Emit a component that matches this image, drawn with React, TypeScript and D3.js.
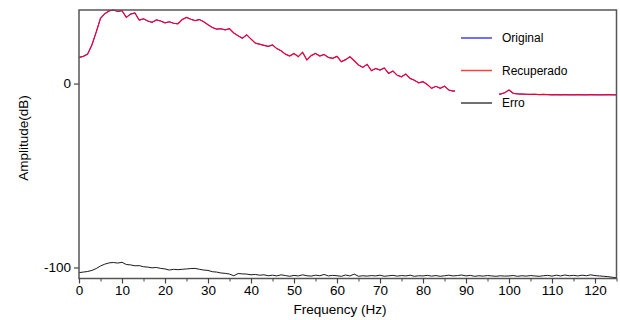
import React, { useEffect, useRef } from 'react';
import * as d3 from 'd3';

// frequency bins (Hz), one per Hz
const freqs: number[] = d3.range(0, 126);

// Recuperado / Original spectrum (dB)
const recuperado: number[] = [
  14.2, 14.8, 16.0, 21.0, 28.0, 35.5, 38.0, 39.5, 40.0, 39.2,
  39.6, 36.0, 37.8, 38.4, 34.5, 35.2, 34.0, 33.3, 34.6, 34.0,
  33.0, 33.6, 32.8, 32.5, 34.8, 36.0, 35.0, 34.2, 34.8, 33.6,
  32.0, 30.5, 29.6, 29.8, 29.2, 29.8, 27.5, 26.0, 24.6, 26.5,
  24.2, 22.0, 21.4, 20.8, 20.2, 21.0, 19.0, 17.8, 16.0, 15.0,
  16.4, 14.6, 17.0, 12.8, 15.2, 16.4, 15.0, 15.8, 14.2, 13.7,
  14.8, 11.9, 13.0, 14.6, 12.4, 10.1, 8.8, 10.5, 7.0, 8.2,
  7.3, 8.5, 5.5, 6.8, 4.5, 3.7, 5.2, 2.8, 1.8, 0.4,
  1.0, -0.5, -2.6, -1.5, -2.6, -1.4, -3.5, -4.1, -3.8, -4.5,
  -4.8, -5.0, -5.2, -5.3, -5.4, -5.5, -5.6, -5.6, -5.7, -5.0,
  -3.5, -5.3, -5.6, -5.7, -5.8, -5.9, -5.8, -6.0, -5.9, -6.0,
  -6.1, -6.0, -6.1, -6.0, -6.1, -6.1, -6.0, -6.1, -6.1, -6.0,
  -6.1, -6.1, -6.1, -6.0, -6.1, -6.1,
];

const original: number[] = recuperado.slice();

// Erro (dB)
const erro: number[] = [
  -102.8, -102.5, -102.2, -101.6, -100.6, -99.2, -98.2, -97.5, -97.3, -97.6,
  -97.2, -98.4, -98.6, -99.1, -99.0, -99.6, -99.8, -100.2, -100.0, -100.5,
  -100.8, -101.4, -101.0, -101.2, -101.0, -100.8, -100.6, -100.5, -101.0, -101.4,
  -101.6, -102.3, -102.5, -103.0, -103.2, -103.6, -104.5, -103.3, -103.5, -103.6,
  -104.0, -103.8, -104.2, -104.0, -104.5, -104.2, -104.6, -104.0, -104.4, -104.8,
  -104.3, -104.6, -104.0, -104.5, -104.7, -104.2, -104.5, -103.8, -104.6, -104.3,
  -104.5, -104.8, -104.1, -104.6, -103.6, -104.8, -104.5, -104.7, -104.4, -104.6,
  -104.2, -104.8, -104.5, -104.3, -104.7, -104.4, -104.6, -104.2, -104.8, -104.5,
  -104.6, -104.3, -104.7, -104.4, -104.8, -104.5, -104.2, -104.6, -104.4, -104.1,
  -104.6, -104.3, -104.8, -104.5, -104.7, -104.4, -104.6, -104.8, -104.5, -104.7,
  -104.6, -104.4, -104.8, -104.5, -104.7, -104.4, -104.6, -104.8, -104.5, -104.3,
  -104.7, -104.2, -104.6, -104.1, -104.5, -104.3, -104.6, -104.2, -104.5, -104.0,
  -104.4, -104.6, -104.8, -105.0, -105.3, -105.6,
];

const xTicks: number[] = [0, 10, 20, 30, 40, 50, 60, 70, 80, 90, 100, 110, 120];
const yTicks: number[] = [0, -100];

const legendNames: string[] = ['Original', 'Recuperado', 'Erro'];
const legendColors: string[] = ['#0000ff', '#ff0000', '#000000'];

const App = () => {
  const svgRef = useRef<SVGSVGElement | null>(null);

  useEffect(() => {
    const width = 620;
    const height = 320;
    const margin = { top: 10, right: 3.5, bottom: 41.5, left: 79 };
    const font = 'Liberation Sans, Arial, Helvetica, sans-serif';

    const svg = d3.select(svgRef.current);
    svg.selectAll('*').remove();
    svg.attr('width', width).attr('height', height);

    const x = d3.scaleLinear()
      .domain([0, 125])
      .range([margin.left, width - margin.right]);

    const y = d3.scaleLinear()
      .domain([-106, 40])
      .range([height - margin.bottom, margin.top]);

    const line = d3.line<number>()
      .x((d, i) => x(freqs[i]))
      .y(d => y(d));

    // curves (Recuperado drawn over Original)
    const plot = svg.append('g');
    plot.append('path')
      .datum(original)
      .attr('fill', 'none')
      .attr('stroke', '#0000ff')
      .attr('stroke-width', 0.8)
      .attr('d', line);
    plot.append('path')
      .datum(recuperado)
      .attr('fill', 'none')
      .attr('stroke', '#ee0030')
      .attr('stroke-width', 1.2)
      .attr('d', line);
    plot.append('path')
      .datum(erro)
      .attr('fill', 'none')
      .attr('stroke', '#000000')
      .attr('stroke-width', 0.9)
      .attr('d', line);

    // frame
    svg.append('rect')
      .attr('x', margin.left)
      .attr('y', margin.top)
      .attr('width', width - margin.left - margin.right)
      .attr('height', height - margin.top - margin.bottom)
      .attr('fill', 'none')
      .attr('stroke', '#555')
      .attr('stroke-width', 1.5);

    // x axis: minor ticks every 5 Hz
    const xAxis = svg.append('g')
      .attr('transform', `translate(0,${height - margin.bottom})`)
      .call(d3.axisBottom(x).tickValues(d3.range(0, 126, 5)).tickSize(3).tickFormat(() => ''));
    xAxis.select('.domain').remove();
    xAxis.selectAll('line').attr('stroke', '#444');

    const xMajor = svg.append('g')
      .attr('transform', `translate(0,${height - margin.bottom})`)
      .call(d3.axisBottom(x).tickValues(xTicks).tickSize(5).tickPadding(2).tickFormat(d => String(d)));
    xMajor.select('.domain').remove();
    xMajor.selectAll('line').attr('stroke', '#444').attr('stroke-width', 1.2);
    xMajor.selectAll('text')
      .attr('fill', '#000')
      .style('font-family', font)
      .style('font-size', '13.5px');

    // y axis
    const yAxis = svg.append('g')
      .attr('transform', `translate(${margin.left},0)`)
      .call(d3.axisLeft(y).tickValues(yTicks).tickSize(5).tickPadding(3).tickFormat(d => String(d)));
    yAxis.select('.domain').remove();
    yAxis.selectAll('line').attr('stroke', '#444').attr('stroke-width', 1.2);
    yAxis.selectAll('text')
      .attr('fill', '#000')
      .style('font-family', font)
      .style('font-size', '13.5px');

    // axis titles
    svg.append('text')
      .attr('x', 340)
      .attr('y', 314)
      .attr('text-anchor', 'middle')
      .style('font-family', font)
      .style('font-size', '13.5px')
      .text('Frequency (Hz)');

    svg.append('text')
      .attr('transform', 'translate(28,138) rotate(-90)')
      .attr('text-anchor', 'middle')
      .style('font-family', font)
      .style('font-size', '13.5px')
      .text('Amplitude(dB)');

    // legend
    const legend = svg.append('g').attr('transform', 'translate(455,25)');
    legend.append('rect')
      .attr('x', 0)
      .attr('y', 0)
      .attr('width', 44)
      .attr('height', 90)
      .attr('fill', '#fff');

    const rows = legend.selectAll('g.row')
      .data(legendNames)
      .join('g')
      .attr('class', 'row')
      .attr('transform', (d, i) => `translate(0,${13 + i * 32.5})`);
    rows.append('line')
      .attr('x1', 6)
      .attr('x2', 37)
      .attr('stroke', (d, i) => legendColors[i])
      .attr('stroke-opacity', 0.75)
      .attr('stroke-width', 1.5);
    rows.append('text')
      .attr('x', 47)
      .attr('dy', '0.35em')
      .style('font-family', font)
      .style('font-size', '12px')
      .text(d => d);
  }, []);

  return (
    <div>
      <svg ref={svgRef} style={{ position: 'absolute', left: 0, top: 0 }}></svg>
    </div>
  );
};

export default App;
